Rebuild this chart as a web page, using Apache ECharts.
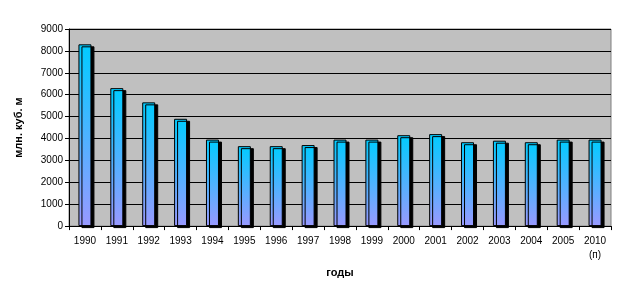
<!DOCTYPE html>
<html>
<head>
<meta charset="utf-8">
<script src="https://cdn.jsdelivr.net/npm/echarts@6/dist/echarts.min.js"></script>
<style>
  html, body { margin: 0; padding: 0; background: #fff; }
  #chart { width: 623px; height: 283px; }
</style>
</head>
<body>
<div id="chart"></div>
<script>
var years = ["1990", "1991", "1992", "1993", "1994", "1995", "1996", "1997", "1998",
  "1999", "2000", "2001", "2002", "2003", "2004", "2005", "2010\n(п)"];
var volumes = [8300, 6300, 5650, 4900, 3950, 3650, 3650, 3700, 3950,
  3950, 4150, 4200, 3830, 3900, 3830, 3950, 3950];
var yTicks = { min: 0, max: 9000, step: 1000 };

var myChart = echarts.init(document.getElementById("chart"));
var font = "Arial, 'Liberation Sans', sans-serif";

var option = {
  animation: false,
  grid: {
    left: 69,
    right: 12,
    top: 29,
    bottom: 55,
    show: true,
    backgroundColor: "#c0c0c0",
    borderColor: "#808080",
    borderWidth: 1,
  },
  xAxis: {
    type: "category",
    data: years,
    name: "годы",
    nameLocation: "middle",
    nameGap: 36,
    nameTextStyle: { fontFamily: font, fontSize: 11, fontWeight: "bold", color: "#000" },
    axisLine: { show: true, lineStyle: { color: "#000", width: 1 } },
    axisTick: { show: true, length: 4, lineStyle: { color: "#000" } },
    axisLabel: { fontFamily: font, fontSize: 10, color: "#000", margin: 8, lineHeight: 14 },
  },
  yAxis: {
    type: "value",
    min: yTicks.min,
    max: yTicks.max,
    interval: yTicks.step,
    name: "млн. куб. м",
    nameLocation: "middle",
    nameGap: 45,
    nameTextStyle: { fontFamily: font, fontSize: 11, fontWeight: "bold", color: "#000" },
    axisLine: { show: true, lineStyle: { color: "#000", width: 1 } },
    axisTick: { show: true, length: 4, lineStyle: { color: "#000" } },
    axisLabel: {
      fontFamily: font,
      fontSize: 10,
      color: "#000",
      margin: 6,
      formatter: function (v) {
        return String(v);
      },
    },
    splitLine: { show: true, lineStyle: { color: "#000", width: 1 } },
  },
  series: [
    {
      type: "bar",
      data: volumes,
      barWidth: 13,
      itemStyle: {
        color: new echarts.graphic.LinearGradient(0, 0, 0, 1, [
          { offset: 0, color: "#00ccff" },
          { offset: 1, color: "#9999ff" },
        ]),
        borderColor: "#000",
        borderWidth: 1,
        shadowColor: "#000",
        shadowOffsetX: 3,
        shadowOffsetY: 2,
        shadowBlur: 0,
      },
    },
  ],
};

myChart.setOption(option);
</script>
</body>
</html>
